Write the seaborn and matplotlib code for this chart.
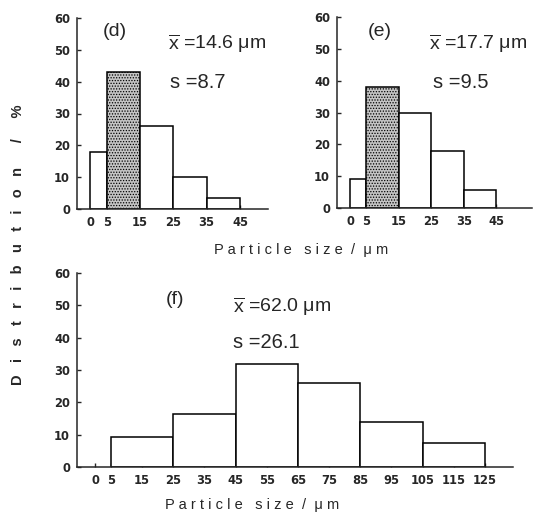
import numpy as np
import pandas as pd
import seaborn as sns
import matplotlib.pyplot as plt

# bin edges and distribution (%)
edges_d = [0, 5, 15, 25, 35, 45]
dist_d = [18, 43, 26, 10, 3.5]
edges_e = [0, 5, 15, 25, 35, 45]
dist_e = [9, 38, 30, 18, 5.5]
edges_f = [5, 25, 45, 65, 85, 105, 125]
dist_f = [9.3, 16.5, 31.8, 26, 14, 7.3]

ticks_small = [0, 5, 15, 25, 35, 45]
ticks_big = [0, 5, 15, 25, 35, 45, 55, 65, 75, 85, 95, 105, 115, 125]

stats = {'d': ('14.6', '8.7'), 'e': ('17.7', '9.5'), 'f': ('62.0', '26.1')}

sns.set_style('ticks')
plt.rcParams['font.family'] = ['Liberation Sans', 'DejaVu Sans']
plt.rcParams['mathtext.fontset'] = 'custom'
plt.rcParams['mathtext.rm'] = 'Liberation Sans'
plt.rcParams['hatch.linewidth'] = 0.6

W, H = 540, 513
fig = plt.figure(figsize=(5.4, 5.13), dpi=100)


def px(x0, y0, x1, y1):
    return [x0 / W, 1 - y1 / H, (x1 - x0) / W, (y1 - y0) / H]


def panel(rect, edges, dist, xlim, ticks, shade):
    ax = fig.add_axes(rect)
    df = pd.DataFrame({'mid': [(a + b) / 2 for a, b in zip(edges[:-1], edges[1:])],
                       'pct': dist})
    sns.histplot(data=df, x='mid', weights='pct', bins=edges, ax=ax,
                 color='white', edgecolor='black', linewidth=1.1, alpha=1)
    if shade:
        ax.patches[1].set_facecolor('#c4c4c4')
        ax.patches[1].set_hatch('......')
    ax.set_xlim(*xlim)
    ax.set_ylim(0, 60)
    ax.set_yticks(range(0, 61, 10))
    ax.set_xticks(ticks)
    ax.set_xticklabels([str(t) for t in ticks])
    for lab in ax.get_xticklabels() + ax.get_yticklabels():
        lab.set_family('DejaVu Sans')
        lab.set_fontweight('bold')
        lab.set_fontsize(8.3)
    ax.tick_params(direction='in', length=3, width=1, pad=5)
    ax.set_xlabel('')
    ax.set_ylabel('')
    for s in ['top', 'right']:
        ax.spines[s].set_visible(False)
    for s in ['left', 'bottom']:
        ax.spines[s].set_linewidth(1.1)
    return ax


panel(px(77, 18, 268, 209), edges_d, dist_d, (-3.9, 53.4), ticks_small, True)
panel(px(337, 17, 532, 208), edges_e, dist_e, (-4, 56), ticks_small, True)
panel(px(77, 273, 513, 467), edges_f, dist_f, (-5.9, 134), ticks_big, False)


def ftext(x, y, s, **kw):
    fig.text(x / W, 1 - y / H, s, va='center', **kw)


labels = [('d', 115, 32, 168, 44, 170, 83),
          ('e', 380, 32, 429, 44, 433, 83),
          ('f', 175, 300, 233, 307, 233, 343)]
for key, lx, ly, mx, my, sx, sy in labels:
    mean, sd = stats[key]
    ftext(lx, ly, '(' + key + ')', ha='center', fontsize=14)
    ftext(mx, my, r'$\overline{\mathrm{x}}$ =' + mean + ' μm', ha='left', fontsize=14)
    ftext(sx, sy, 's =' + sd, ha='left', fontsize=14.5)

xlab = 'P a r t i c l e   s i z e  /  μ m'
ftext(301, 250, xlab, ha='center', fontsize=10.5)
ftext(252, 505, xlab, ha='center', fontsize=10.5)
ylab = '   '.join('Distribution') + '      /     %'
ftext(18, 245, ylab, ha='center', fontsize=10.5, rotation=90, fontweight='bold')

fig.savefig('out.png', dpi=100)
